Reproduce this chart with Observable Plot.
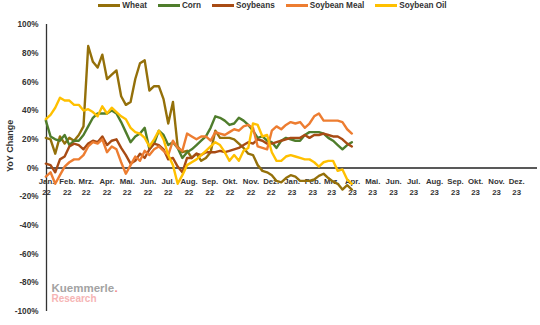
<!DOCTYPE html>
<html>
<head>
<meta charset="utf-8">
<script src="https://cdn.jsdelivr.net/npm/d3@7"></script>
<script src="https://cdn.jsdelivr.net/npm/@observablehq/plot@0.6"></script>
<style>
  html, body { margin: 0; padding: 0; background: #fff; }
  #chart { position: relative; width: 540px; height: 325px; }
  #legend {
    position: absolute; top: 0; left: 0; width: 540px; height: 11px;
    display: flex; justify-content: center; align-items: center;
    padding-left: 5px; box-sizing: border-box;
    font: bold 8.2px "Liberation Sans", Arial, sans-serif;
    color: #333; gap: 11px;
  }
  #legend .item { display: flex; align-items: center; gap: 2px; white-space: nowrap; }
  #legend .sw { width: 22px; height: 3px; display: inline-block; }
</style>
</head>
<body>
<div id="chart"><div id="legend"></div></div>
<script>
// Weekly year-over-year price change of grains and oilseeds (in percent)
const seriesNames = ["Wheat", "Corn", "Soybeans", "Soybean Meal", "Soybean Oil"];
const seriesColors = ["#94700a", "#4f7d2c", "#a84b14", "#ed7d31", "#ffc000"];

// Weekly observation dates (Fridays, 31 Dec 2021 to 31 Mar 2023)
const weeks = d3.utcFriday.range(new Date(Date.UTC(2021, 11, 31)), new Date(Date.UTC(2023, 3, 1)));

const wheat = [21,20,10,22,17,21,19,23,29,85, 74,70,79,62,65,68,50,44,46,62,
  73,75,54,57,57,48,31,46,15,11, 12,7,10,5,7,11,26,21,21,21,
  20,17,14,10,9,2,-2,-3,-5,-9, -10,-7,-5,-6,-9,-9,-9,-8,-5.5,-4,
  -7,-9.5,-11,-15,-12,-15];
const corn = [33,22,20,19,23,16,19,19,23,29, 35,38,38,38,40,38,32,25,18,22,
  24,28,13,17,26,23,16,18,14,7, 11,13,16,19,22,28,36,35,33,30,
  31,35,33,30,26,21,22,19,18,14, 19,21,20,19,19,23,25,25,25,24,
  21,19,16,13,16,18];
const soybeans = [3,2,-3,6,8,15,17,16,13,17, 19,18,22,16,19,20,14,9,3,5,
  10,7,13,17,16,13,6,7,1,-3, 7,7,10,9,11,11,11,12,11,12,
  13,14,16,18,17,20,19,17,17,18, 19,20,21,21,21,23,21,23,23,24,
  23,22,22,20,17,15];
const soybeanMeal = [-6,-3,-11,-5,1,4,6,6,9,15, 18,17,20,11,15,13,4,-4,2,8,
  5,12,9,13,15,12,9,19,14,12, 24,22,20,22,22,19,25,24,23,25,
  27,26,29,30,28,15,14,13,26,29, 27,30,32,31,32,28,31,36,38,33,
  33,33,33,32,27,24];
const soybeanOil = [34,37,42,49,47,47,44,44,40,41, 39,36,43,38,42,39,36,34,28,25,
  24,21,15,20,26,20,9,2,-11,-5, 2,4,6,9,12,15,18,16,11,5,
  9,5,12,14,31,30,22,23,11,5, 5,8,9,8,7,6,6,4,1,4,
  5,5,-2,-1,-8,-11];

// Axis tick labels
const monthNames = ["Jan.","Feb.","Mrz.","Apr.","Mai.","Jun.","Jul.","Aug.","Sep.","Okt.","Nov.","Dez."];
const monthTicks = d3.utcMonth.range(new Date(Date.UTC(2022, 0, 1)), new Date(Date.UTC(2024, 0, 1)));
const yTicks = [-1, -0.8, -0.6, -0.4, -0.2, 0, 0.2, 0.4, 0.6, 0.8, 1];

const allSeries = [wheat, corn, soybeans, soybeanMeal, soybeanOil];
const rows = allSeries.map(vals => vals.map((v, i) => ({date: weeks[i], value: v / 100})));

const font = '"Liberation Sans", Arial, sans-serif';
const ink = "#333";
const xStart = new Date(Date.UTC(2022, 0, 1));

const chart = Plot.plot({
  width: 540,
  height: 325,
  marginLeft: 46,
  marginRight: 3,
  marginTop: 24,
  marginBottom: 14,
  style: {fontFamily: font, fontWeight: "bold", fontSize: "8px", color: ink, background: "transparent"},
  x: {type: "utc", domain: [xStart, new Date(Date.UTC(2024, 0, 1))], axis: null},
  y: {domain: [-1, 1], axis: null},
  marks: [
    Plot.axisY({ticks: yTicks, tickSize: 0, tickPadding: 8, tickFormat: d => Math.round(d * 100) + "%",
      label: null, fill: ink, fontWeight: "bold", fontSize: 8.2}),
    Plot.text(["YoY Change"], {frameAnchor: "left", dx: -36, dy: 4, rotate: -90,
      fill: ink, fontSize: 9, fontWeight: "bold"}),
    Plot.ruleX([xStart], {y1: -1, y2: 1, stroke: "#333", strokeWidth: 1.3}),
    Plot.ruleY([0], {stroke: "#222", strokeWidth: 1.4}),
    Plot.text(monthTicks, {x: d => d, y: 0,
      text: d => monthNames[d.getUTCMonth()] + "\n" + String(d.getUTCFullYear()).slice(2),
      lineAnchor: "top", dy: 8, lineHeight: 1.4, fill: ink, fontSize: 7.8, fontWeight: "bold"}),
    Plot.text(["Kuemmerle"], {frameAnchor: "bottom-left", textAnchor: "start", lineAnchor: "middle",
      dx: 5, dy: -23, fill: "#a3a3a3", fontSize: 11.5, fontWeight: "bold"}),
    Plot.text(["."], {frameAnchor: "bottom-left", textAnchor: "start", lineAnchor: "middle",
      dx: 68, dy: -23, fill: "#f08a8a", fontSize: 11.5, fontWeight: "bold"}),
    Plot.text(["Research"], {frameAnchor: "bottom-left", textAnchor: "start", lineAnchor: "middle",
      dx: 5, dy: -13, fill: "#f6b4b4", fontSize: 10, fontWeight: "bold"}),
    ...rows.map((r, s) => Plot.line(r, {x: "date", y: "value", stroke: seriesColors[s],
      strokeWidth: 2.4, strokeLinejoin: "round", strokeLinecap: "round"}))
  ]
});

const root = document.getElementById("chart");
root.insertBefore(chart, root.firstChild);

// Legend with line swatches
const legend = d3.select("#legend");
seriesNames.forEach((name, i) => {
  const item = legend.append("div").attr("class", "item");
  item.append("span").attr("class", "sw").style("background", seriesColors[i]);
  item.append("span").text(name);
});
</script>
</body>
</html>
